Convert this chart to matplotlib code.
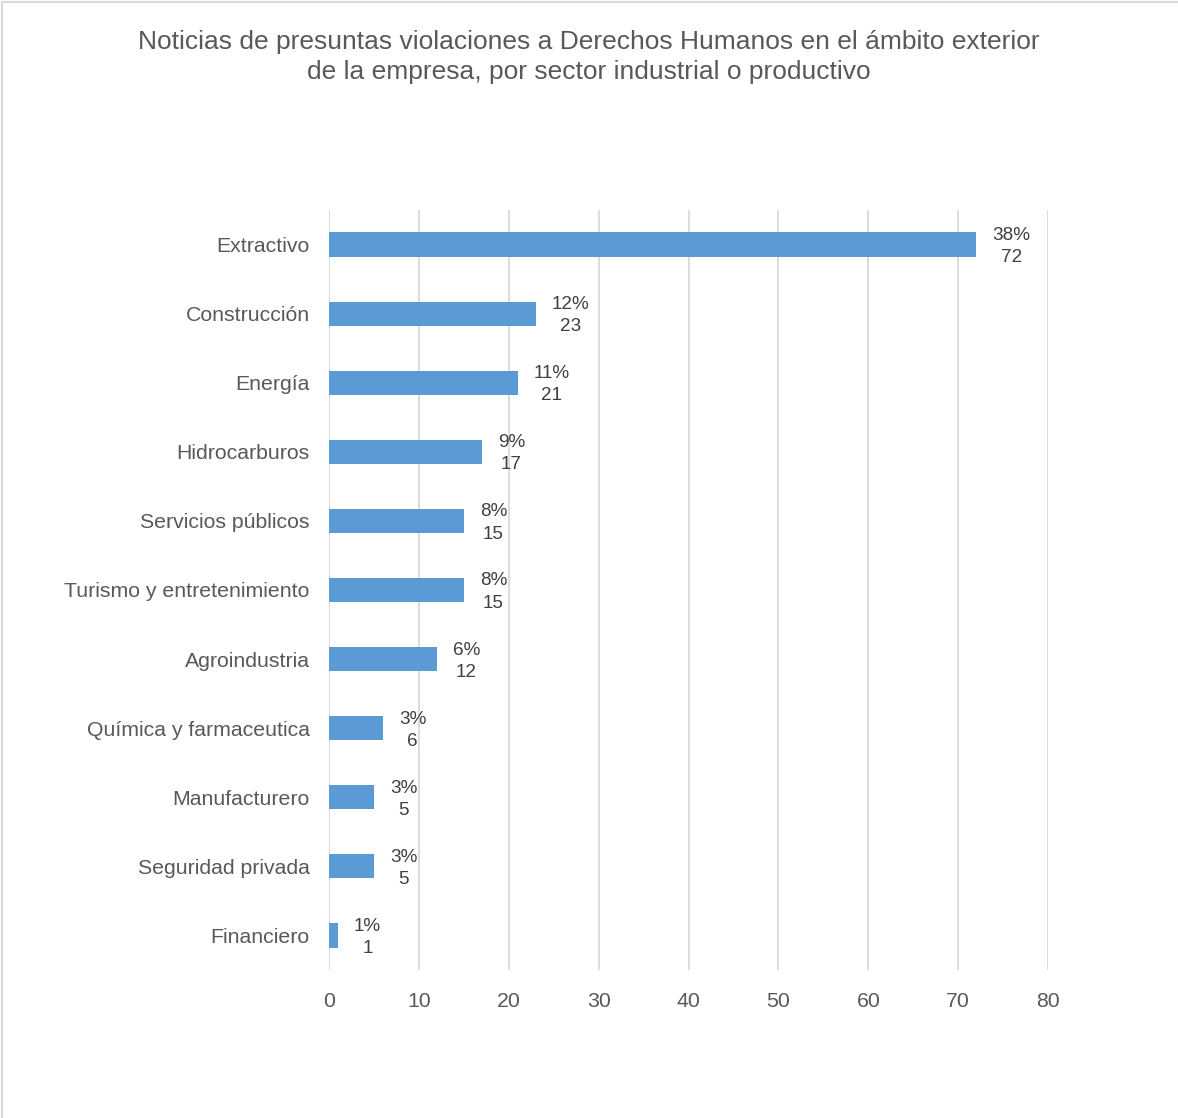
import matplotlib.pyplot as plt
from matplotlib.lines import Line2D

# noticias por sector
sectores = ["Extractivo", "Construcción", "Energía", "Hidrocarburos", "Servicios públicos",
            "Turismo y entretenimiento", "Agroindustria", "Química y farmaceutica",
            "Manufacturero", "Seguridad privada", "Financiero"]
noticias = [72, 23, 21, 17, 15, 15, 12, 6, 5, 5, 1]
porcentajes = ["38%", "12%", "11%", "9%", "8%", "8%", "6%", "3%", "3%", "3%", "1%"]
xticks = [0, 10, 20, 30, 40, 50, 60, 70, 80]

plt.rcParams['font.family'] = ['Liberation Sans', 'DejaVu Sans']
gris = '#595959'

fig = plt.figure(figsize=(11.78, 11.18), dpi=100)
ax = fig.add_axes([0.2793, 0.1324, 0.6104, 0.6798])

y = list(range(len(sectores)))
ax.barh(y, noticias, height=0.35, color='#5B9BD5', zorder=3)
ax.set_ylim(len(sectores) - 0.5, -0.5)
ax.set_xlim(0, 80)
ax.set_xticks(xticks)
ax.set_yticks(y)
ax.set_yticklabels(sectores)
ax.grid(axis='x', color='#d9d9d9', linewidth=1.3, zorder=0)
ax.tick_params(axis='both', length=0, colors=gris, labelsize=15.3)
ax.tick_params(axis='y', pad=14)
ax.tick_params(axis='x', pad=16)
for s in ax.spines.values():
    s.set_visible(False)

# etiqueta: porcentaje arriba, cantidad abajo
for yi, v, p in zip(y, noticias, porcentajes):
    ax.annotate(p + "\n" + str(v), (v, yi), xytext=(11.5, -1.5), textcoords='offset points',
                ha='left', va='center', multialignment='center',
                fontsize=13.6, color='#404040', linespacing=1.4)

fig.text(0.5, 0.9490, "Noticias de presuntas violaciones a Derechos Humanos en el ámbito exterior\n"
         "de la empresa, por sector industrial o productivo",
         ha='center', va='center', fontsize=19, color=gris, linespacing=1.3)

# marco del gráfico
fig.add_artist(Line2D([0.0015, 0.0015], [0, 0.998], color='#d9d9d9', linewidth=1.5))
fig.add_artist(Line2D([0.0015, 1], [0.998, 0.998], color='#d9d9d9', linewidth=1.5))

fig.savefig("out.png", dpi=100, facecolor='white')
